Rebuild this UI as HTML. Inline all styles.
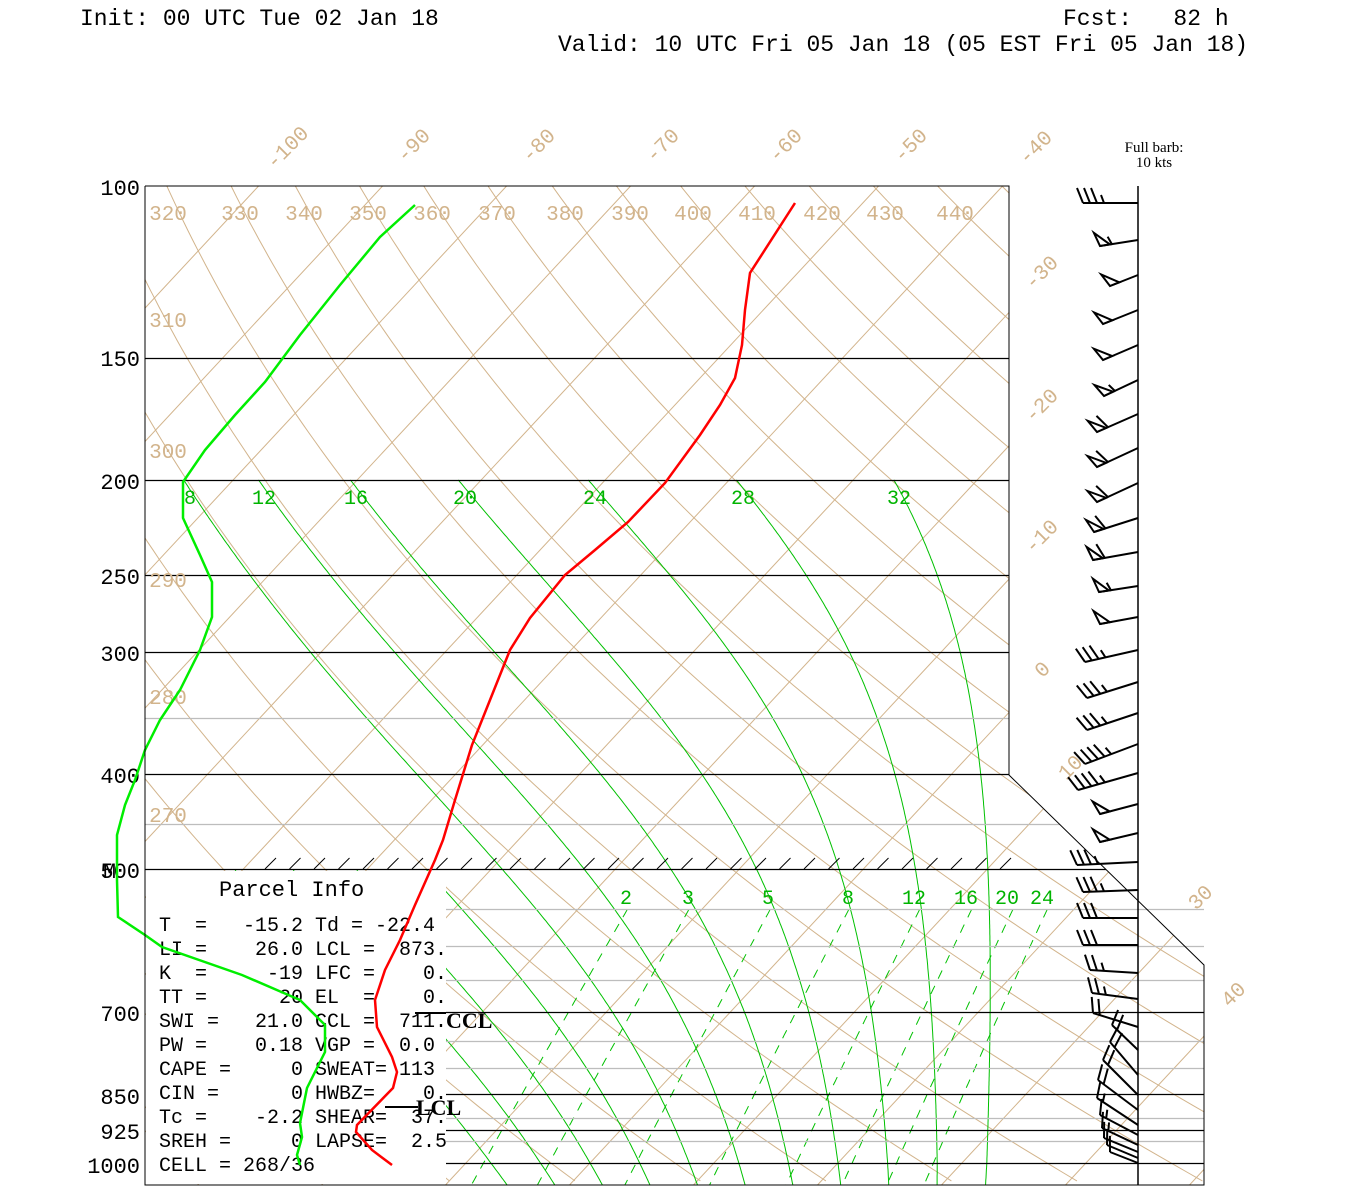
<!DOCTYPE html>
<html><head><meta charset="utf-8"><style>
html,body{margin:0;padding:0;background:#fff;}
svg{display:block;}
.hd{font-family:"Liberation Mono",monospace;font-size:23px;fill:#000;}
.ax{font-family:"Liberation Mono",monospace;font-size:22px;fill:#000;}
.tan{font-family:"Liberation Mono",monospace;font-size:21px;fill:#d2b48c;}
.gr{font-family:"Liberation Mono",monospace;font-size:20px;fill:#00b400;}
.pc{font-family:"Liberation Mono",monospace;font-size:20px;fill:#000;}
.bl{font-family:"Liberation Serif",serif;font-size:22px;font-weight:bold;fill:#000;}
</style></head><body>
<svg id="s" width="1350" height="1200" viewBox="0 0 1350 1200" xmlns="http://www.w3.org/2000/svg">
<defs>
<clipPath id="cp"><polygon points="145,186 1009,186 1009,775 1204,965 1204,1185 145,1185"/></clipPath>
</defs>
<rect width="1350" height="1200" fill="#fff"/>
<g id="bg" clip-path="url(#cp)"></g>
<g id="hl"></g>
<rect x="146" y="871" width="300" height="313" fill="#fff"/>
<g id="hatch" stroke="#000" stroke-width="1"></g>
<text class="hd" x="80" y="25">Init: 00 UTC Tue 02 Jan 18</text>
<text class="hd" x="1063" y="25">Fcst:&#160;&#160;&#160;82 h</text>
<text class="hd" x="558" y="51">Valid: 10 UTC Fri 05 Jan 18 (05 EST Fri 05 Jan 18)</text>
<text x="1154" y="152" text-anchor="middle" style="font-family:'Liberation Serif',serif;font-size:15px">Full barb:</text>
<text x="1154" y="167" text-anchor="middle" style="font-family:'Liberation Serif',serif;font-size:15px">10 kts</text>
<g class="ax" text-anchor="end">
<text x="140" y="195">100</text><text x="140" y="366">150</text><text x="140" y="489">200</text>
<text x="140" y="584">250</text><text x="140" y="661">300</text><text x="140" y="783">400</text>
<text x="140" y="878">500</text><text x="140" y="1021">700</text><text x="140" y="1104">850</text>
<text x="140" y="1139">925</text><text x="140" y="1173">1000</text>
</g>
<text class="ax" x="103" y="878">M</text>
<g class="tan">
<text transform="translate(292,152) rotate(-45)" text-anchor="middle">-100</text>
<text transform="translate(418,150) rotate(-45)" text-anchor="middle">-90</text>
<text transform="translate(543,150) rotate(-45)" text-anchor="middle">-80</text>
<text transform="translate(667,150) rotate(-45)" text-anchor="middle">-70</text>
<text transform="translate(790,150) rotate(-45)" text-anchor="middle">-60</text>
<text transform="translate(915,150) rotate(-45)" text-anchor="middle">-50</text>
<text transform="translate(1040,152) rotate(-45)" text-anchor="middle">-40</text>
<text transform="translate(1046,277) rotate(-45)" text-anchor="middle">-30</text>
<text transform="translate(1046,410) rotate(-45)" text-anchor="middle">-20</text>
<text transform="translate(1046,541) rotate(-45)" text-anchor="middle">-10</text>
<text transform="translate(1047,674) rotate(-45)" text-anchor="middle">0</text>
<text transform="translate(1075,772) rotate(-45)" text-anchor="middle">10</text>
<text transform="translate(1205,902) rotate(-45)" text-anchor="middle">30</text>
<text transform="translate(1238,999) rotate(-45)" text-anchor="middle">40</text>
</g>
<g class="tan" text-anchor="middle">
<text x="168" y="220">320</text><text x="240" y="220">330</text><text x="304" y="220">340</text>
<text x="368" y="220">350</text><text x="432" y="220">360</text><text x="497" y="220">370</text>
<text x="565" y="220">380</text><text x="630" y="220">390</text><text x="693" y="220">400</text>
<text x="757" y="220">410</text><text x="822" y="220">420</text><text x="885" y="220">430</text>
<text x="955" y="220">440</text>
<text x="168" y="327">310</text><text x="168" y="458">300</text><text x="168" y="587">290</text>
<text x="168" y="704">280</text><text x="168" y="822">270</text>
</g>
<g class="gr" text-anchor="middle">
<text x="190" y="504">8</text><text x="264" y="504">12</text><text x="356" y="504">16</text>
<text x="465" y="504">20</text><text x="595" y="504">24</text><text x="743" y="504">28</text>
<text x="899" y="504">32</text>
<text x="626" y="904">2</text><text x="688" y="904">3</text><text x="768" y="904">5</text>
<text x="848" y="904">8</text><text x="914" y="904">12</text><text x="966" y="904">16</text>
<text x="1007" y="904">20</text><text x="1042" y="904">24</text>
</g>
<text class="pc" x="219" y="896" style="font-size:22px">Parcel&#160;Info</text>
<g class="pc">
<text x="159" y="931">T&#160;&#160;=&#160;&#160;&#160;-15.2 Td = -22.4</text>
<text x="159" y="955">LI =&#160;&#160;&#160;&#160;26.0 LCL =&#160;&#160;873.</text>
<text x="159" y="979">K&#160;&#160;=&#160;&#160;&#160;&#160;&#160;-19 LFC =&#160;&#160;&#160;&#160;0.</text>
<text x="159" y="1003">TT =&#160;&#160;&#160;&#160;&#160;&#160;20 EL&#160;&#160;=&#160;&#160;&#160;&#160;0.</text>
<text x="159" y="1027">SWI =&#160;&#160;&#160;21.0 CCL =&#160;&#160;711.</text>
<text x="159" y="1051">PW =&#160;&#160;&#160;&#160;0.18 VGP =&#160;&#160;0.0</text>
<text x="159" y="1075">CAPE =&#160;&#160;&#160;&#160;&#160;0 SWEAT= 113</text>
<text x="159" y="1099">CIN =&#160;&#160;&#160;&#160;&#160;&#160;0 HWBZ=&#160;&#160;&#160;&#160;0.</text>
<text x="159" y="1123">Tc =&#160;&#160;&#160;&#160;-2.2 SHEAR=&#160;&#160;37.</text>
<text x="159" y="1147">SREH =&#160;&#160;&#160;&#160;&#160;0 LAPSE=&#160;&#160;2.5</text>
<text x="159" y="1171">CELL = 268/36</text>
</g>
<line x1="415" y1="1013" x2="446" y2="1013" stroke="#000" stroke-width="2"/>
<text class="bl" x="446" y="1028">CCL</text>
<line x1="385" y1="1107" x2="418" y2="1107" stroke="#000" stroke-width="2"/>
<text class="bl" x="416" y="1115">LCL</text>
<g id="prof"></g>
<g id="barbs" stroke="#000" stroke-width="2" fill="none"></g>
<polyline points="145,186 1009,186 1009,775 1204,965 1204,1185 145,1185 145,186" fill="none" stroke="#000" stroke-width="1"/>
<line x1="1138" y1="186" x2="1138" y2="1185" stroke="#000" stroke-width="1.5"/>
</svg>
<script>
(function(){
var NS='http://www.w3.org/2000/svg';
function Y(p){return 186+977*Math.log10(p/100);}
function X(T,y){return 590+12.4*T+0.93*(1163-y);}
function el(par,tag,at){var e=document.createElementNS(NS,tag);for(var k in at)e.setAttribute(k,at[k]);document.getElementById(par).appendChild(e);return e;}
function pl(par,pts,st,w,dash){var s=pts.map(function(q){return q[0].toFixed(1)+','+q[1].toFixed(1);}).join(' ');var a={points:s,fill:'none',stroke:st,'stroke-width':w};if(dash)a['stroke-dasharray']=dash;return el(par,'polyline',a);}
var tan='#d2b48c';
for(var T=-160;T<=60;T+=10){pl('bg',[[X(T,186),186],[X(T,1185),1185]],tan,1);}
for(var th=240;th<=470;th+=10){var pts=[];for(var p=95;p<=1060;p*=1.02){var t=th*Math.pow(p/1000,0.2857)-273.15;var y=Y(p);pts.push([X(t,y),y]);}pl('bg',pts,tan,1);}
function rs(T,p){var es=6.112*Math.exp(17.67*(T-273.15)/(T-29.65));return 0.622*es/(p-es);}
function dT(T,p){var r=rs(T,p),Rd=287,Lv=2.5e6,Cp=1004;return (Rd*T+Lv*r)/(Cp+Lv*Lv*r*0.622/(Rd*T*T));}
function moist(tw){var T=tw+273.15,lp=Math.log(1000),h=-0.005;var list=[[1000,T]];
 var t=T;for(var l=lp;l>Math.log(195);l+=h){t+=dT(t,Math.exp(l))*h;list.push([Math.exp(l+h),t]);}
 t=T;var dn=[];for(var l2=lp;l2<Math.log(1060);l2-=h){t+=dT(t,Math.exp(l2))*(-h);dn.push([Math.exp(l2-h),t]);}
 return list.reverse().concat(dn);}
var labs=[8,12,16,20,24,28,32],tops=[185,260,352,460,590,738,895];
var fr=function(p){var f=(Math.log(p)-Math.log(1000))/(Math.log(200)-Math.log(1000));return Math.max(0,f);};
var D={};
for(var k=0;k<=10;k++){
 var L=32-4*k;var c=moist(L);var xtop=null;
 for(var i=0;i<c.length;i++){if(c[i][0]>=200){xtop=X(c[i][1]-273.15,Y(c[i][0]));break;}}
 var idx=labs.indexOf(L);D[k]={c:c,L:L,d:(idx>=0?tops[idx]-xtop:null)};
}
for(var k=0;k<=10;k++){if(D[k].d===null)D[k].d=D[6].d+(D[6].d-D[5].d)*(k-6);}
for(var k=0;k<=10;k++){var o=D[k];var pmin=(o.L>=8)?200:500;var pts=[];
 o.c.forEach(function(q){if(q[0]<pmin-0.5)return;var y=Y(q[0]);pts.push([X(q[1]-273.15,y)+o.d*fr(q[0]),y]);});
 pl('bg',pts,'#00c000',1);}
[2,3,5,8,12,16,20,24].forEach(function(w){var pts=[];for(var p=550;p<=1060;p+=5){var e=w*p/(622+w);var a=Math.log(e/6.112);var td=243.5*a/(17.67-a);var y=Y(p);pts.push([X(td,y),y]);}pl('bg',pts,'#00c000',1,'9,8');});
function rb(y){if(y<=775)return 1009;if(y<965)return 1009+(y-775)*195/190;return 1204;}
[150,200,250,300,400,500].forEach(function(p){var y=Math.round(Y(p))+0.5;pl('hl',[[145,y],[rb(y),y]],'#000',1.2);});
[700,850,925,1000].forEach(function(p){var y=Math.round(Y(p))+0.5;pl('hl',[[446,y],[1204,y]],'#000',1.2);});
[350,450].forEach(function(p){var y=Math.round(Y(p))+0.5;pl('hl',[[145,y],[rb(y),y]],'#bdbdbd',1.2);});
[550,600,650,750,800,900,950].forEach(function(p){var y=Math.round(Y(p))+0.5;pl('hl',[[446,y],[1204,y]],'#bdbdbd',1.2);});
for(var x=265;x<1005;x+=24.5){el('hatch','line',{x1:x,y1:869,x2:x+11,y2:858});}
var red=[[795,203],[750,273],[745,310],[742,345],[735,378],[720,405],[700,435],[665,483],[628,522],[595,550],[565,575],[530,618],[510,650],[490,700],[472,745],[455,800],[443,840],[435,860],[415,905],[400,940],[385,970],[375,1000],[377,1027],[392,1057],[397,1072],[393,1088],[357,1125],[356,1132],[372,1150],[392,1165]];
var grn=[[415,205],[380,237],[340,285],[300,335],[265,382],[235,415],[205,450],[183,482],[183,518],[200,555],[212,582],[212,617],[200,650],[180,690],[160,720],[145,750],[135,780],[125,805],[117,835],[117,880],[118,917],[145,935],[162,947],[242,975],[300,1000],[325,1025],[325,1052],[307,1088],[300,1123],[302,1137],[297,1155],[300,1165]];
pl('prof',red,'#ff0000',2.5);pl('prof',grn,'#00ee00',2.5);
function barb(by,tx,ty,np,nf,nh){var bx=1138;var g='barbs';el(g,'line',{x1:bx,y1:by,x2:tx,y2:ty});
 var ux=bx-tx,uy=by-ty,l=Math.hypot(ux,uy);ux/=l;uy/=l;
 var nx=uy,ny=-ux; if(ny>0){nx=-nx;ny=-ny;}
 var s=0;
 for(var i=0;i<np;i++){var px=tx+ux*s,py=ty+uy*s;el(g,'polygon',{points:[px,py,px+ux*10,py+uy*10,px+nx*14-ux*4,py+ny*14-uy*4].join(',')});s+=12;}
 for(var i=0;i<nf;i++){var px=tx+ux*s,py=ty+uy*s;el(g,'line',{x1:px,y1:py,x2:px+nx*15-ux*6,y2:py+ny*15-uy*6});s+=7;}
 for(var i=0;i<nh;i++){var px=tx+ux*s,py=ty+uy*s;el(g,'line',{x1:px,y1:py,x2:px+nx*8-ux*3,y2:py+ny*8-uy*3});s+=7;}
}
var B=[[203,1083,203,0,3,1],[240,1100,246,1,0,1],[275,1110,286,1,0,0],[310,1103,324,1,0,0],[345,1103,360,1,0,0],[380,1104,396,1,0,1],[414,1097,432,1,1,0],[448,1097,467,1,1,0],[483,1097,502,1,1,0],[518,1094,532,1,1,0],[552,1093,560,1,1,0],[586,1099,592,1,0,1],[617,1100,624,1,0,0],[650,1085,662,0,3,1],
[682,1087,698,0,3,1],[713,1087,730,0,3,1],[744,1085,764,0,4,1],[773,1078,790,0,4,1],[804,1100,814,1,0,0],[833,1100,842,1,0,0],[862,1077,865,0,3,1],[890,1083,892,0,3,1],[918,1083,918,0,3,0],[945,1083,945,0,3,0],[973,1090,970,0,2,1],[999,1092,993,0,2,1],[1027,1093,1013,0,2,0],
[1050,1112,1025,0,2,0],[1075,1110,1042,0,2,0],[1095,1103,1060,0,2,0],[1110,1098,1080,0,2,0],[1125,1097,1098,0,1,1],[1135,1100,1115,0,1,1],[1145,1102,1128,0,1,1],[1152,1104,1138,0,1,0],[1158,1107,1145,0,1,0],[1163,1110,1152,0,1,0]];
B.forEach(function(b){barb.apply(null,b);});
})();
</script>
</body></html>
